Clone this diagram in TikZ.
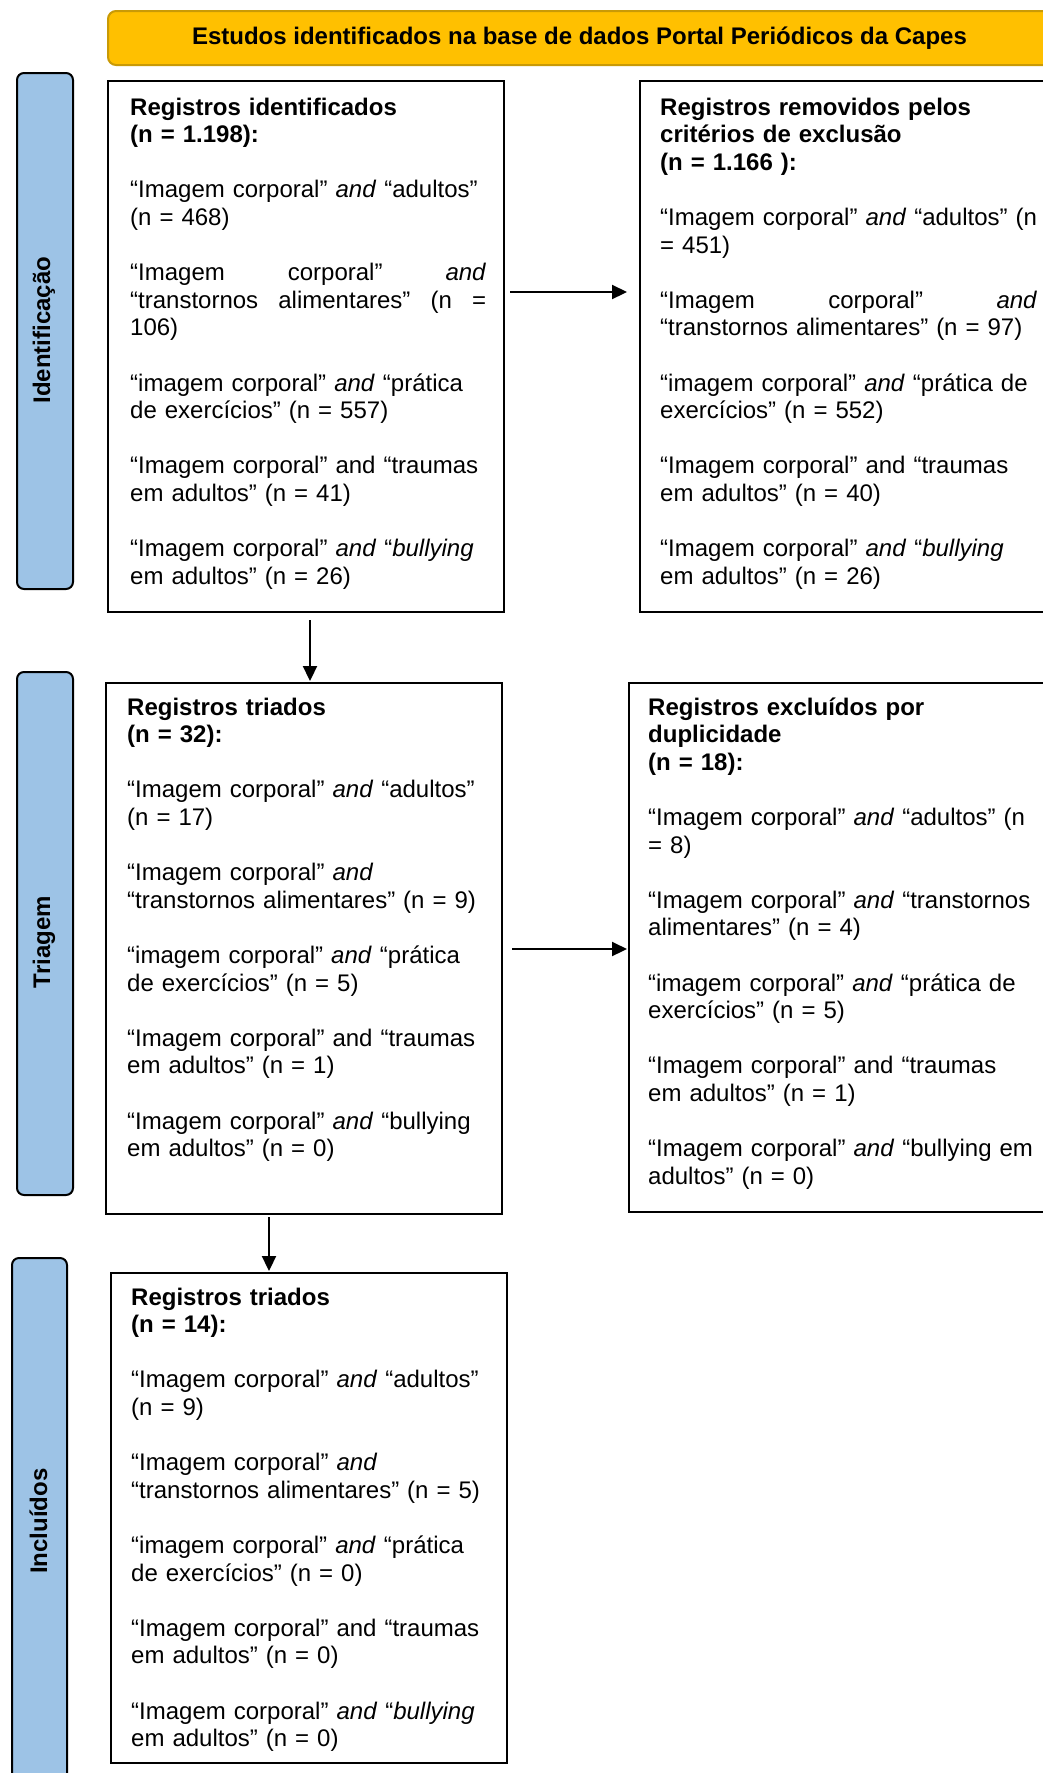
\documentclass[tikz,border=0pt]{standalone}
\usepackage{fontspec}
\setmainfont{Liberation Sans}
\usetikzlibrary{arrows.meta}
\definecolor{bannerfill}{HTML}{FFC000}
\definecolor{bannerdraw}{HTML}{C99A06}
\definecolor{barfill}{HTML}{9DC3E6}
\begin{document}
\begin{tikzpicture}[x=1pt,y=-1pt,
  box/.style={draw=black, line width=2pt, rectangle, inner sep=0pt, anchor=north west},
  bar/.style={draw=black, line width=2pt, fill=barfill, rounded corners=7pt, rectangle, inner sep=0pt, anchor=north west},
  banner/.style={draw=bannerdraw, line width=2pt, fill=bannerfill, rounded corners=8pt, rectangle, inner sep=0pt, anchor=north west, font=\fontsize{24}{27.6}\selectfont\bfseries},
  txt/.style={anchor=base west, inner sep=0pt, text width=440pt, align=left, font=\fontsize{24}{27.6}\selectfont},
  lbl/.style={rotate=90, font=\fontsize{24}{27.6}\selectfont\bfseries, inner sep=0pt},
  arr/.style={line width=2.2pt, -{Triangle[length=15pt,width=14pt]}}
]
\useasboundingbox (0,0) rectangle (1043,1773);
\fill[white] (0,0) rectangle (1043,1773);

% banner
\node[banner, minimum width=943pt, minimum height=54pt] (ban) at (107,10) {Estudos identificados na base de dados Portal Periódicos da Capes};

% side bars
\node[bar, minimum width=56pt, minimum height=516pt] (bar1) at (16,72) {};
\node[bar, minimum width=56pt, minimum height=523pt] (bar2) at (16,671) {};
\node[bar, minimum width=55pt, minimum height=530pt] (bar3) at (11,1257) {};
\node[lbl] (l1) at (44,330) {Identificação};
\node[lbl] (l2) at (44,942) {Triagem};
\node[lbl] (l3) at (38.5,1521) {Incluídos};

% boxes
\node[box, minimum width=396pt, minimum height=531pt] (b1) at (107,80) {};
\node[box, minimum width=430pt, minimum height=531pt] (b2) at (639,80) {};
\node[box, minimum width=396pt, minimum height=531pt] (b3) at (105,682) {};
\node[box, minimum width=440pt, minimum height=529pt] (b4) at (628,682) {};
\node[box, minimum width=396pt, minimum height=490pt] (b5) at (110,1272) {};

% texts
\node[txt] (t1) at (130,115) {\textbf{Registros identificados}\\
\textbf{(n = 1.198):}\\[27.6pt]
“Imagem corporal” \textit{and} “adultos”\\
(n = 468)\\[27.6pt]
\makebox[356pt][l]{“Imagem\hfill corporal”\hfill\textit{and}}\\
\makebox[356pt][l]{“transtornos\hfill alimentares”\hfill(n\hfill=}\\
106)\\[27.6pt]
“imagem corporal” \textit{and} “prática\\
de exercícios” (n = 557)\\[27.6pt]
“Imagem corporal” and “traumas\\
em adultos” (n = 41)\\[27.6pt]
“Imagem corporal” \textit{and} “\textit{bullying}\\
em adultos” (n = 26)};

\node[txt] (t2) at (660,115) {\textbf{Registros removidos pelos}\\
\textbf{critérios de exclusão}\\
\textbf{(n = 1.166 ):}\\[27.6pt]
“Imagem corporal” \textit{and} “adultos” (n\\
= 451)\\[27.6pt]
\makebox[377pt][l]{“Imagem\hfill corporal”\hfill\textit{and}}\\
“transtornos alimentares” (n = 97)\\[27.6pt]
“imagem corporal” \textit{and} “prática de\\
exercícios” (n = 552)\\[27.6pt]
“Imagem corporal” and “traumas\\
em adultos” (n = 40)\\[27.6pt]
“Imagem corporal” \textit{and} “\textit{bullying}\\
em adultos” (n = 26)};

\node[txt] (t3) at (127,715) {\textbf{Registros triados}\\
\textbf{(n = 32):}\\[27.6pt]
“Imagem corporal” \textit{and} “adultos”\\
(n = 17)\\[27.6pt]
“Imagem corporal” \textit{and}\\
“transtornos alimentares” (n = 9)\\[27.6pt]
“imagem corporal” \textit{and} “prática\\
de exercícios” (n = 5)\\[27.6pt]
“Imagem corporal” and “traumas\\
em adultos” (n = 1)\\[27.6pt]
“Imagem corporal” \textit{and} “bullying\\
em adultos” (n = 0)};

\node[txt] (t4) at (648,715) {\textbf{Registros excluídos por}\\
\textbf{duplicidade}\\
\textbf{(n = 18):}\\[27.6pt]
“Imagem corporal” \textit{and} “adultos” (n\\
= 8)\\[27.6pt]
“Imagem corporal” \textit{and} “transtornos\\
alimentares” (n = 4)\\[27.6pt]
“imagem corporal” \textit{and} “prática de\\
exercícios” (n = 5)\\[27.6pt]
“Imagem corporal” and “traumas\\
em adultos” (n = 1)\\[27.6pt]
“Imagem corporal” \textit{and} “bullying em\\
adultos” (n = 0)};

\node[txt] (t5) at (131,1305) {\textbf{Registros triados}\\
\textbf{(n = 14):}\\[27.6pt]
“Imagem corporal” \textit{and} “adultos”\\
(n = 9)\\[27.6pt]
“Imagem corporal” \textit{and}\\
“transtornos alimentares” (n = 5)\\[27.6pt]
“imagem corporal” \textit{and} “prática\\
de exercícios” (n = 0)\\[27.6pt]
“Imagem corporal” and “traumas\\
em adultos” (n = 0)\\[27.6pt]
“Imagem corporal” \textit{and} “\textit{bullying}\\
em adultos” (n = 0)};

% connectors
\draw[arr] ([shift={(5,212)}]b1.north east) -- ([shift={(-12,212)}]b2.north west);
\draw[arr] ([shift={(9,267)}]b3.north east) -- ([shift={(-1,267)}]b4.north west);
\draw[arr] ([shift={(203,7)}]b1.south west) -- ([shift={(205,-1)}]b3.north west);
\draw[arr] ([shift={(164,2)}]b3.south west) -- ([shift={(159,-1)}]b5.north west);
\end{tikzpicture}
\end{document}
